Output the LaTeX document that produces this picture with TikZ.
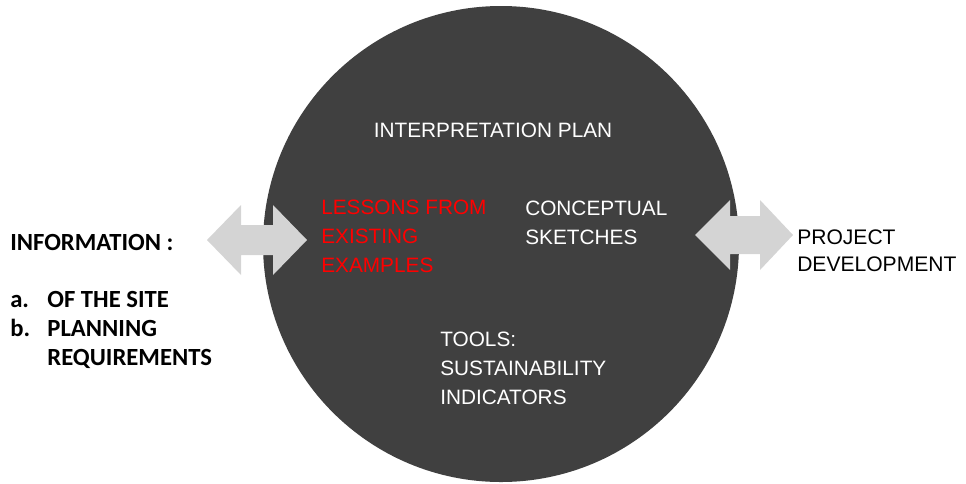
\documentclass[tikz,border=0pt]{standalone}
\usepackage{fontspec}
\setmainfont{Liberation Sans}
\newfontfamily\calibrifont{Carlito}
\usetikzlibrary{positioning}

\definecolor{discgray}{HTML}{404040}
\definecolor{arrowgray}{HTML}{D4D4D4}
\definecolor{lessonred}{HTML}{FF0000}

\tikzset{
	disctext/.style={text=white, align=left, inner sep=0pt, font=\fontsize{15.6}{21.75}\selectfont},
	sidetext/.style={text=black, align=left, inner sep=0pt, font=\fontsize{15.8}{20.25}\selectfont},
	infotext/.style={text=black, inner sep=0pt, font=\calibrifont\bfseries\fontsize{18.5}{21.75}\selectfont},
}

\begin{document}
\begin{tikzpicture}[x=0.75pt, y=-0.75pt]
	\useasboundingbox (0,0) rectangle (966,483);
	% big disc
	\fill[discgray] (501,244) circle (238);
	% double arrows
	\fill[arrowgray] (207,240) -- (241,205) -- (241,225) -- (273,225) -- (273,205) -- (307,240)
		-- (273,275) -- (273,255) -- (241,255) -- (241,275) -- cycle;
	\fill[arrowgray] (695,235) -- (730,200) -- (730,216) -- (760,216) -- (760,200) -- (793,235)
		-- (760,270) -- (760,254) -- (730,254) -- (730,270) -- cycle;
	% texts inside the disc
	\node[disctext] (plan) at (493,130) {INTERPRETATION PLAN};
	\node[disctext, anchor=west, text=lessonred] (lessons) at (321,236) {LESSONS FROM\\EXISTING\\EXAMPLES};
	\node[disctext, anchor=west] (sketches) at (525,223) {CONCEPTUAL\\SKETCHES};
	\node[disctext, anchor=west] (tools) at (440,368) {TOOLS:\\SUSTAINABILITY\\INDICATORS};
	% left: information
	\node[infotext, anchor=west] (info) at (10,242) {INFORMATION :};
	\node[infotext, anchor=west] (infolist) at (10,331) {%
		\begin{tabular}{@{}l@{\hspace{13pt}}l@{}}
			a. & OF THE SITE\\
			b. & PLANNING\\
			   & REQUIREMENTS
		\end{tabular}};
	% right: project
	\node[sidetext, anchor=west] (project) at (797,251) {PROJECT\\DEVELOPMENT};
\end{tikzpicture}
\end{document}
